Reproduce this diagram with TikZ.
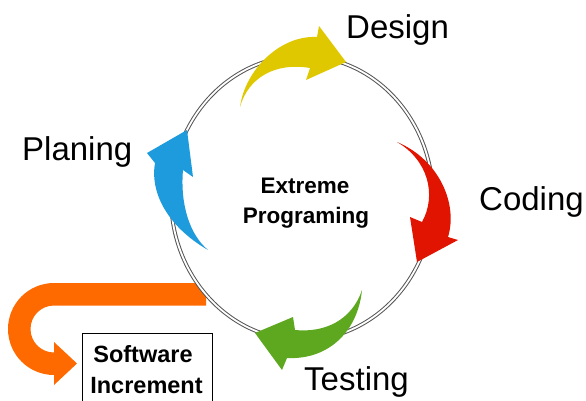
\documentclass[tikz,border=0pt]{standalone}
\usepackage{fontspec}
\setmainfont{Liberation Sans}
\definecolor{cyellow}{HTML}{E0C800}
\definecolor{cred}{HTML}{E01400}
\definecolor{cgreen}{HTML}{5EA81F}
\definecolor{cblue}{HTML}{1E9BDC}
\definecolor{corange}{HTML}{FF6A00}
\definecolor{ring}{HTML}{555555}
\tikzset{
  phase/.style={anchor=base west, inner sep=0pt, font=\fontsize{33}{40}\selectfont},
  centre/.style={anchor=base, inner sep=0pt, font=\bfseries\fontsize{22.5}{27}\selectfont},
  incr/.style={anchor=base, inner sep=0pt, font=\bfseries\fontsize{23.5}{28}\selectfont}
}
\begin{document}
\begin{tikzpicture}[x=1pt,y=-1pt]
\useasboundingbox (0,0) rectangle (586,400);
\clip (0,0) rectangle (586,400);
% orange output arrow (behind the ring)
\fill[corange] (206,283) -- (54,283) arc[start angle=90,end angle=270,radius=46pt]
  -- (54,385) -- (77,363.5) -- (54,342) -- (54,352.5)
  arc[start angle=270,end angle=90,radius=23.5pt] -- (206,305.5) -- cycle;
% ring
\fill[white] (302,198) ellipse [x radius=131pt, y radius=142pt];
\draw[ring, line width=1pt, double=white, double distance=1.8pt] (302,198) ellipse [x radius=131pt, y radius=142pt];
% yellow arrow
\fill[cyellow] (240,107) .. controls (245,70) and (280,35) .. (317,37)
  -- (319,26) -- (346,62) -- (306,80) -- (310,68)
  .. controls (275,62) and (248,78) .. (240,107) -- cycle;
% red arrow
\fill[cred] (397,142) .. controls (440,160) and (458,205) .. (448,237)
  -- (458,240) -- (417,262) -- (410,217) -- (422,222)
  .. controls (437,195) and (428,160) .. (397,142) -- cycle;
% green arrow
\fill[cgreen] (362,290) .. controls (352,320) and (325,333) .. (295,330)
  -- (293,317) -- (255,333) -- (282,370) -- (287,358)
  .. controls (330,360) and (358,330) .. (362,290) -- cycle;
% blue arrow
\fill[cblue] (208,250) .. controls (165,225) and (150,190) .. (155,163)
  -- (147,153) -- (187,130) -- (193,177) -- (183,170)
  .. controls (180,205) and (190,235) .. (208,250) -- cycle;
% labels
\node[phase] (design) at (346,38) {Design};
\node[phase] (coding) at (479,210) {Coding};
\node[phase] (planing) at (22,160) {Planing};
\node[phase] (testing) at (304,390) {Testing};
\node[centre] (xp1) at (305,193) {Extreme};
\node[centre] (xp2) at (306,223) {Programing};
% software increment box
\node[draw, line width=0.8pt, anchor=north west, minimum width=130pt, minimum height=80pt, inner sep=0pt] (box) at (82,333) {};
\node[incr] (sw) at (143,362) {Software};
\node[incr] (inc) at (146.5,393) {Increment};
\end{tikzpicture}
\end{document}
